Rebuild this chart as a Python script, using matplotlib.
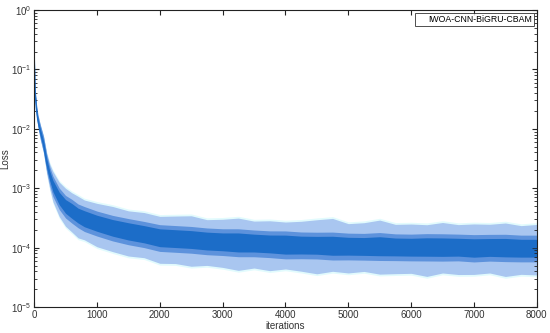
import numpy as np
import matplotlib
matplotlib.use("Agg")
import matplotlib.pyplot as plt

plt.rcParams['font.family'] = ['Liberation Sans', 'DejaVu Sans']
plt.rcParams['mathtext.default'] = 'regular'

# values (iteration -> loss)
iters = [0, 10, 20, 40, 60, 80, 100, 150, 200, 250, 300, 400, 500, 600, 700,
         800, 1000, 1250, 1500, 1750, 2000, 2250, 2500, 2750, 3000, 3250,
         3500, 3750, 4000, 4250, 4500, 4750, 5000, 5250, 5500, 5750, 6000,
         6250, 6500, 6750, 7000, 7250, 7500, 7750, 8000]
loss_mid = [0.22, 0.07, 0.035, 0.02, 0.014, 0.011, 0.0088, 0.0055, 0.0027,
            0.0016, 0.0011, 0.00068, 0.0005, 0.00042, 0.00035, 0.00031,
            0.00026, 0.00022, 0.00019, 0.00017, 0.00015, 0.000145, 0.00014,
            0.000132, 0.000128, 0.000125, 0.000122, 0.000118, 0.000115,
            0.000113, 0.000112, 0.00011, 0.000108, 0.000107, 0.000108,
            0.000105, 0.000104, 0.000106, 0.000103, 0.000104, 0.000102,
            0.000103, 0.000101, 0.0001, 0.0001]
# band widths in decades (dense core, and tips of the spikes)
core_up = [0.02, 0.02, 0.03, 0.03, 0.03, 0.04, 0.05, 0.06, 0.07, 0.08, 0.09,
           0.1, 0.11, 0.12, 0.12, 0.13, 0.13, 0.13, 0.14, 0.14, 0.14, 0.14,
           0.14, 0.14, 0.14, 0.15, 0.14, 0.14, 0.15, 0.14, 0.14, 0.15, 0.14,
           0.14, 0.15, 0.14, 0.14, 0.14, 0.15, 0.14, 0.14, 0.14, 0.15, 0.14,
           0.14]
core_dn = [0.02, 0.02, 0.03, 0.03, 0.03, 0.04, 0.05, 0.06, 0.07, 0.08, 0.1,
           0.11, 0.12, 0.13, 0.13, 0.14, 0.14, 0.15, 0.15, 0.15, 0.16, 0.16,
           0.16, 0.16, 0.16, 0.17, 0.16, 0.16, 0.17, 0.16, 0.16, 0.17, 0.16,
           0.16, 0.17, 0.16, 0.16, 0.17, 0.16, 0.16, 0.17, 0.16, 0.16, 0.16,
           0.16]
spike_up = [0.04, 0.04, 0.05, 0.06, 0.06, 0.08, 0.1, 0.13, 0.16, 0.2, 0.24,
            0.27, 0.3, 0.3, 0.32, 0.31, 0.33, 0.35, 0.34, 0.36, 0.35, 0.37,
            0.39, 0.35, 0.37, 0.4, 0.36, 0.38, 0.37, 0.39, 0.42, 0.45, 0.37,
            0.39, 0.43, 0.37, 0.38, 0.36, 0.41, 0.37, 0.39, 0.38, 0.41, 0.37,
            0.39]
spike_dn = [0.04, 0.04, 0.05, 0.06, 0.06, 0.08, 0.1, 0.14, 0.18, 0.22, 0.27,
            0.31, 0.34, 0.36, 0.38, 0.36, 0.4, 0.41, 0.42, 0.4, 0.44, 0.43,
            0.46, 0.42, 0.44, 0.48, 0.43, 0.46, 0.42, 0.45, 0.49, 0.44, 0.46,
            0.43, 0.48, 0.46, 0.45, 0.51, 0.44, 0.47, 0.46, 0.44, 0.49, 0.45,
            0.46]

it = np.array(iters)
mid = np.array(loss_mid)

fig = plt.figure(figsize=(5.5, 3.33), dpi=100)
ax = fig.add_axes([0.062, 0.078, 0.914, 0.892])

ax.fill_between(it, mid / 10 ** (np.array(spike_dn) + 0.03),
                mid * 10 ** (np.array(spike_up) + 0.03),
                color='#e2fbfd', lw=0)
ax.fill_between(it, mid / 10 ** np.array(spike_dn),
                mid * 10 ** np.array(spike_up),
                color='#a9c6f0', lw=0)
ax.fill_between(it, mid / 10 ** (np.array(core_dn) + 0.08),
                mid * 10 ** (np.array(core_up) + 0.07),
                color='#5d92dc', lw=0)
ax.fill_between(it, mid / 10 ** np.array(core_dn),
                mid * 10 ** np.array(core_up),
                color='#1c6dc8', lw=0)
line, = ax.plot(it, mid, color='#1c6dc8', lw=1.0,
                label='IWOA-CNN-BiGRU-CBAM')

ax.set_yscale('log')
ax.set_xlim(0, 8000)
ax.set_ylim(1e-5, 1)
ax.set_xticks(range(0, 8001, 1000))
ax.tick_params(which='both', direction='in', top=True, right=True,
               labelsize=7, colors='#222222', labelcolor='#333333', pad=2)
ax.tick_params(which='major', length=3.5)
ax.tick_params(which='minor', length=2)
for s in ax.spines.values():
    s.set_color('#222222')
    s.set_linewidth(0.8)
ax.set_xlabel('iterations', fontsize=7, color='#333333', labelpad=1)
ax.set_ylabel('Loss', fontsize=7, color='#333333', labelpad=0)

leg = ax.legend(loc='upper right', fontsize=6.3, frameon=True, fancybox=False,
                edgecolor='#222222', handlelength=0.8, handletextpad=0.4,
                borderpad=0.25, borderaxespad=0.3)
leg.get_frame().set_linewidth(0.7)
leg.legend_handles[0].set_visible(False)

fig.savefig('out.png', dpi=100)
